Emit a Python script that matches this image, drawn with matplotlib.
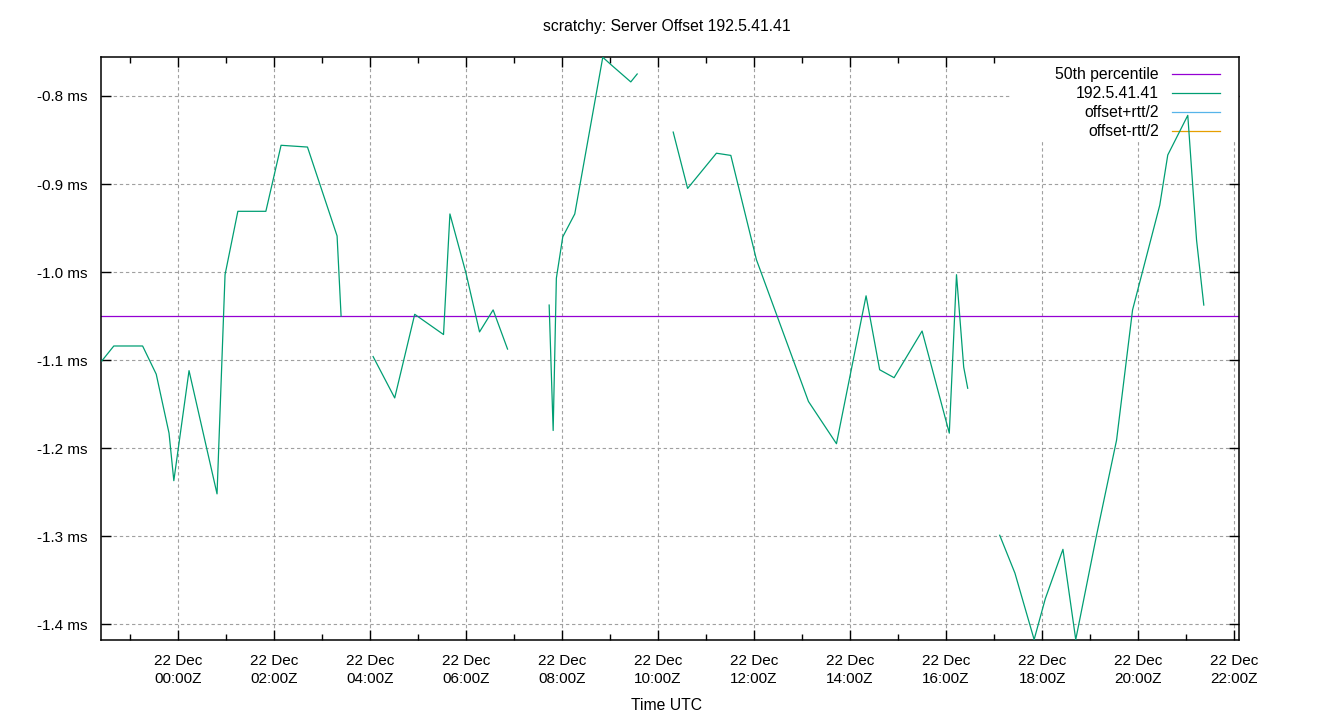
import numpy as np
import pandas as pd
import matplotlib
matplotlib.use("Agg")
import matplotlib.pyplot as plt
import matplotlib.dates as mdates
from matplotlib.patches import Rectangle

plt.rcParams['font.family'] = ['Liberation Sans', 'DejaVu Sans']

# sample times (UTC) and offsets in ms; None marks a gap in the data
times = [
    "2019-12-21 22:25", "2019-12-21 22:40", "2019-12-21 23:16", "2019-12-21 23:33",
    "2019-12-21 23:49", "2019-12-21 23:55", "2019-12-22 00:14", "2019-12-22 00:49",
    "2019-12-22 00:59", "2019-12-22 01:15", "2019-12-22 01:50", "2019-12-22 02:09",
    "2019-12-22 02:42", "2019-12-22 03:19", "2019-12-22 03:24",
    "2019-12-22 03:45",
    "2019-12-22 04:04", "2019-12-22 04:31", "2019-12-22 04:56", "2019-12-22 05:32",
    "2019-12-22 05:40", "2019-12-22 06:00", "2019-12-22 06:17", "2019-12-22 06:34",
    "2019-12-22 06:52",
    "2019-12-22 07:20",
    "2019-12-22 07:44", "2019-12-22 07:49", "2019-12-22 07:53", "2019-12-22 08:01",
    "2019-12-22 08:16", "2019-12-22 08:51", "2019-12-22 09:02", "2019-12-22 09:26",
    "2019-12-22 09:34",
    "2019-12-22 10:00",
    "2019-12-22 10:19", "2019-12-22 10:37", "2019-12-22 11:13", "2019-12-22 11:31",
    "2019-12-22 12:03", "2019-12-22 13:08", "2019-12-22 13:43", "2019-12-22 14:20",
    "2019-12-22 14:37", "2019-12-22 14:55", "2019-12-22 15:30", "2019-12-22 16:04",
    "2019-12-22 16:13", "2019-12-22 16:22", "2019-12-22 16:27",
    "2019-12-22 16:45",
    "2019-12-22 17:07", "2019-12-22 17:26", "2019-12-22 17:50", "2019-12-22 18:04",
    "2019-12-22 18:26", "2019-12-22 18:42", "2019-12-22 19:08", "2019-12-22 19:33",
    "2019-12-22 19:53", "2019-12-22 20:27", "2019-12-22 20:37", "2019-12-22 21:02",
    "2019-12-22 21:13", "2019-12-22 21:22",
]
offset_ms = [
    -1.101, -1.084, -1.084, -1.116,
    -1.183, -1.237, -1.112, -1.252,
    -1.003, -0.931, -0.931, -0.856,
    -0.858, -0.959, -1.050,
    None,
    -1.096, -1.143, -1.048, -1.071,
    -0.934, -1.001, -1.068, -1.043,
    -1.0875,
    None,
    -1.0375, -1.180, -1.007, -0.960,
    -0.934, -0.756, -0.765, -0.784,
    -0.775,
    None,
    -0.841, -0.905, -0.865, -0.8675,
    -0.986, -1.147, -1.195, -1.027,
    -1.111, -1.120, -1.067, -1.183,
    -1.003, -1.108, -1.132,
    None,
    -1.299, -1.342, -1.4175, -1.371,
    -1.315, -1.4175, -1.299, -1.191,
    -1.043, -0.924, -0.867, -0.822,
    -0.964, -1.0375,
]
percentile_50 = -1.05
x_range = ["2019-12-21 22:24", "2019-12-22 22:06"]
y_range = [-1.418, -0.7557]

t = pd.to_datetime(times)
y = np.array([np.nan if v is None else v for v in offset_ms])
xlim = pd.to_datetime(x_range)

FS = 11.3

fig = plt.figure(figsize=(13.4, 7.2), dpi=100)
ax = fig.add_axes([101 / 1340, 1 - 640 / 720, 1138 / 1340, 583 / 720])

ax.axhline(percentile_50, color="#9400d3", lw=0.9, label="50th percentile", zorder=2)
ax.plot(t, y, color="#009e73", lw=0.9, label="192.5.41.41", zorder=3)
ax.plot([], [], color="#56b4e9", lw=0.9, label="offset+rtt/2")
ax.plot([], [], color="#e69f00", lw=0.9, label="offset-rtt/2")

ax.set_xlim(xlim[0], xlim[1])
ax.set_ylim(*y_range)

ax.xaxis.set_major_locator(mdates.HourLocator(byhour=range(0, 24, 2)))
ax.xaxis.set_minor_locator(mdates.HourLocator())
ax.xaxis.set_major_formatter(mdates.DateFormatter("%d %b\n%H:%MZ"))
ax.set_yticks([-1.4, -1.3, -1.2, -1.1, -1.0, -0.9, -0.8])
ax.yaxis.set_major_formatter(plt.FuncFormatter(lambda v, p: "%.1f ms" % v))

ax.tick_params(which="both", direction="in", top=True, right=True,
               labelsize=FS - 0.3, color="black", width=1)
ax.tick_params(axis="x", which="major", length=7, pad=10)
ax.tick_params(axis="x", which="minor", length=4)
ax.tick_params(axis="y", which="major", length=7, pad=10)
for lab in ax.get_xticklabels():
    lab.set_linespacing(1.35)

ax.set_axisbelow(True)
ax.grid(True, which="major", color="#a0a0a0", lw=0.8, linestyle=(0, (3, 2.5)))
for s in ax.spines.values():
    s.set_linewidth(1.1)

# white key background hides the grid behind it
ax.add_patch(Rectangle((0.799, 0.858), 0.201, 0.142, transform=ax.transAxes,
                       facecolor="white", edgecolor="none", zorder=1))
leg = ax.legend(loc="upper right", frameon=False, markerfirst=False,
                fontsize=FS, handlelength=3.05, handletextpad=0.83,
                labelspacing=0.25, borderpad=0, borderaxespad=0,
                bbox_to_anchor=(1 - 19 / 1138, 1 - 10.5 / 583))
leg.set_zorder(1.5)

fig.text(0.4975, 1 - 27 / 720, "scratchy: Server Offset 192.5.41.41",
         ha="center", va="center", fontsize=FS)
fig.text(0.4975, 1 - 705 / 720, "Time UTC", ha="center", va="center", fontsize=FS)

fig.savefig("out.png", dpi=100)
